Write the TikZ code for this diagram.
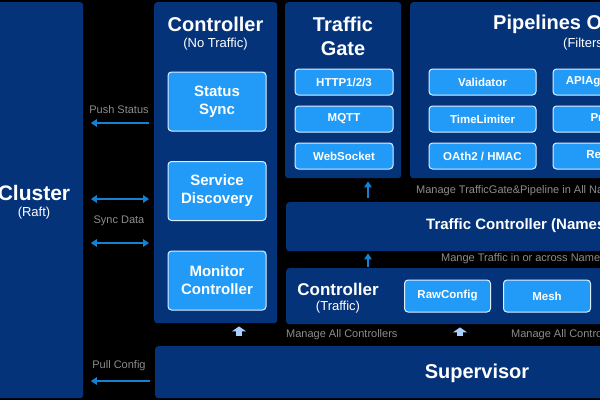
\documentclass[tikz,border=0pt]{standalone}
\usepackage{fontspec}
\setmainfont{Liberation Sans}
\usetikzlibrary{positioning,arrows.meta}

\definecolor{navy}{HTML}{05337A}
\definecolor{skyfill}{HTML}{219BF7}
\definecolor{skyedge}{HTML}{DDEEFF}
\definecolor{notegray}{HTML}{8C8C8C}
\definecolor{wire}{HTML}{1482D2}
\definecolor{pale}{HTML}{A9D1FF}

\begin{document}
\begin{tikzpicture}[x=1pt,y=-1pt,
    panel/.style={fill=navy, rounded corners=3pt, inner sep=0pt, anchor=north west},
    module/.style={fill=skyfill, draw=skyedge, line width=1pt, rounded corners=3.5pt,
      text=white, align=center, inner sep=0pt, minimum width=98pt, minimum height=59pt,
      font=\bfseries\fontsize{15}{18}\selectfont},
    chip/.style={fill=skyfill, draw=skyedge, line width=1pt, rounded corners=3.5pt,
      text=white, inner sep=0pt, minimum width=98pt, minimum height=26pt,
      font=\bfseries\fontsize{11.5}{13}\selectfont},
    title/.style={text=white, align=center, inner sep=0pt, font=\bfseries\fontsize{20}{24}\selectfont},
    sub/.style={text=white, inner sep=0pt, font=\fontsize{13}{15}\selectfont},
    note/.style={text=notegray, inner sep=0pt, font=\fontsize{11}{13}\selectfont},
    flow/.style={draw=wire, line width=2pt, -{Triangle[length=6pt,width=7.5pt]}},
    sync/.style={flow, {Triangle[length=6pt,width=7.5pt]}-{Triangle[length=6pt,width=7.5pt]}},
    lift/.style={draw=pale, line width=6pt, -{Triangle[length=5pt,width=14pt]}}
]

\useasboundingbox (0,0) rectangle (600,400);
\fill[black] (0,0) rectangle (600,400);
\clip (0,0) rectangle (600,400);

% panels
\node[panel, minimum width=100pt, minimum height=396pt] (cluster) at (-17,2) {};
\node[panel, minimum width=123pt, minimum height=321pt] (ctrlA) at (154,2) {};
\node[panel, minimum width=116pt, minimum height=176pt] (gate) at (285,2) {};
\node[panel, minimum width=300pt, minimum height=176pt] (pipes) at (410,2) {};
\node[panel, minimum width=400pt, minimum height=49pt] (tc) at (286,202) {};
\node[panel, minimum width=400pt, minimum height=56pt] (ctrlB) at (286,268) {};
\node[panel, minimum width=500pt, minimum height=52pt] (sup) at (155,346) {};

% cluster
\node[title, font=\bfseries\fontsize{21}{24}\selectfont] (cluster-t) at (34,193) {Cluster};
\node[sub] (cluster-s) at (34,213) {(Raft)};

% controller (no traffic)
\node[title] (ctrlA-t) at (215.5,24) {Controller};
\node[sub] (ctrlA-s) at (215.5,44) {(No Traffic)};
\node[module] (status) at (217,101.5) {Status\\Sync};
\node[module, below=29.5pt of status] (discovery) {Service\\Discovery};
\node[module, below=29.5pt of discovery] (monitor) {Monitor\\Controller};

% traffic gate
\node[title] (gate-t) at (343,36) {Traffic\\Gate};
\node[chip] (http) at (344,82) {HTTP1/2/3};
\node[chip, below=10pt of http] (mqtt) {MQTT};
\node[chip, below=10pt of mqtt] (ws) {WebSocket};

% pipelines
\node[title, anchor=west] (pipes-t) at (493,24) {Pipelines Objects};
\node[sub, anchor=west] (pipes-s) at (563,44) {(Filters)};
\node[chip, minimum width=107pt] (validator) at (482.5,82) {Validator};
\node[chip, minimum width=107pt, below=10pt of validator] (limiter) {TimeLimiter};
\node[chip, minimum width=107pt, below=10pt of limiter] (oauth) {OAth2 / HMAC};
\node[chip, minimum width=107pt, right=16pt of validator] (apiagg) {APIAggregator};
\node[chip, minimum width=107pt, below=10pt of apiagg] (proxy) {Proxy};
\node[chip, minimum width=107pt, below=10pt of proxy] (retry) {Retryer};

% traffic controller
\node[title, anchor=west, font=\bfseries\fontsize{15}{18}\selectfont] (tc-t) at (426,226) {Traffic Controller (Namespace)};

% controller (traffic)
\node[title, font=\bfseries\fontsize{17}{20}\selectfont] (ctrlB-t) at (338,289) {Controller};
\node[sub] (ctrlB-s) at (338,307) {(Traffic)};
\node[chip, minimum width=86pt, minimum height=32pt] (rawcfg) at (447.5,296) {RawConfig};
\node[chip, minimum width=87pt, minimum height=32pt, right=12pt of rawcfg] (mesh) {Mesh};

% supervisor
\node[title] (sup-t) at (477,373) {Supervisor};

% notes
\node[note] (push-n) at (119,110) {Push Status};
\node[note] (sync-n) at (119,221) {Sync Data};
\node[note] (pull-n) at (119,366) {Pull Config};
\node[note, anchor=west] (gate-n) at (416,191) {Manage TrafficGate\&Pipeline in All Namespaces};
\node[note, anchor=west] (tc-n) at (441,259) {Mange Traffic in or across Namespaces};
\node[note, anchor=west] (sup-n1) at (286,335) {Manage All Controllers};
\node[note, anchor=west] (sup-n2) at (511,335) {Manage All Controllers};

% connectors
\coordinate (push) at (0,123);
\coordinate (syncA) at (0,199);
\coordinate (syncB) at (0,243);
\coordinate (pull) at (0,381);
\coordinate (upA) at (368,0);
\coordinate (liftA) at (239,0);
\coordinate (liftB) at (460,0);

\draw[flow, shorten <=5pt, shorten >=7.5pt] (ctrlA.west |- push) -- (cluster.east |- push);
\draw[sync, shorten <=7.5pt, shorten >=5pt] (cluster.east |- syncA) -- (ctrlA.west |- syncA);
\draw[sync, shorten <=7.5pt, shorten >=5pt] (cluster.east |- syncB) -- (ctrlA.west |- syncB);
\draw[flow, shorten <=5pt, shorten >=7.5pt] (sup.west |- pull) -- (cluster.east |- pull);

\draw[flow, shorten <=4pt, shorten >=3pt] (tc.north -| upA) -- (gate.south -| upA);
\draw[flow, shorten <=1pt, shorten >=2pt] (ctrlB.north -| upA) -- (tc.south -| upA);
\draw[lift, shorten <=10pt, shorten >=3pt] (sup.north -| liftA) -- (ctrlA.south -| liftA);
\draw[lift, shorten <=10pt, shorten >=3pt] (sup.north -| liftB) -- (ctrlB.south -| liftB);

\end{tikzpicture}
\end{document}
